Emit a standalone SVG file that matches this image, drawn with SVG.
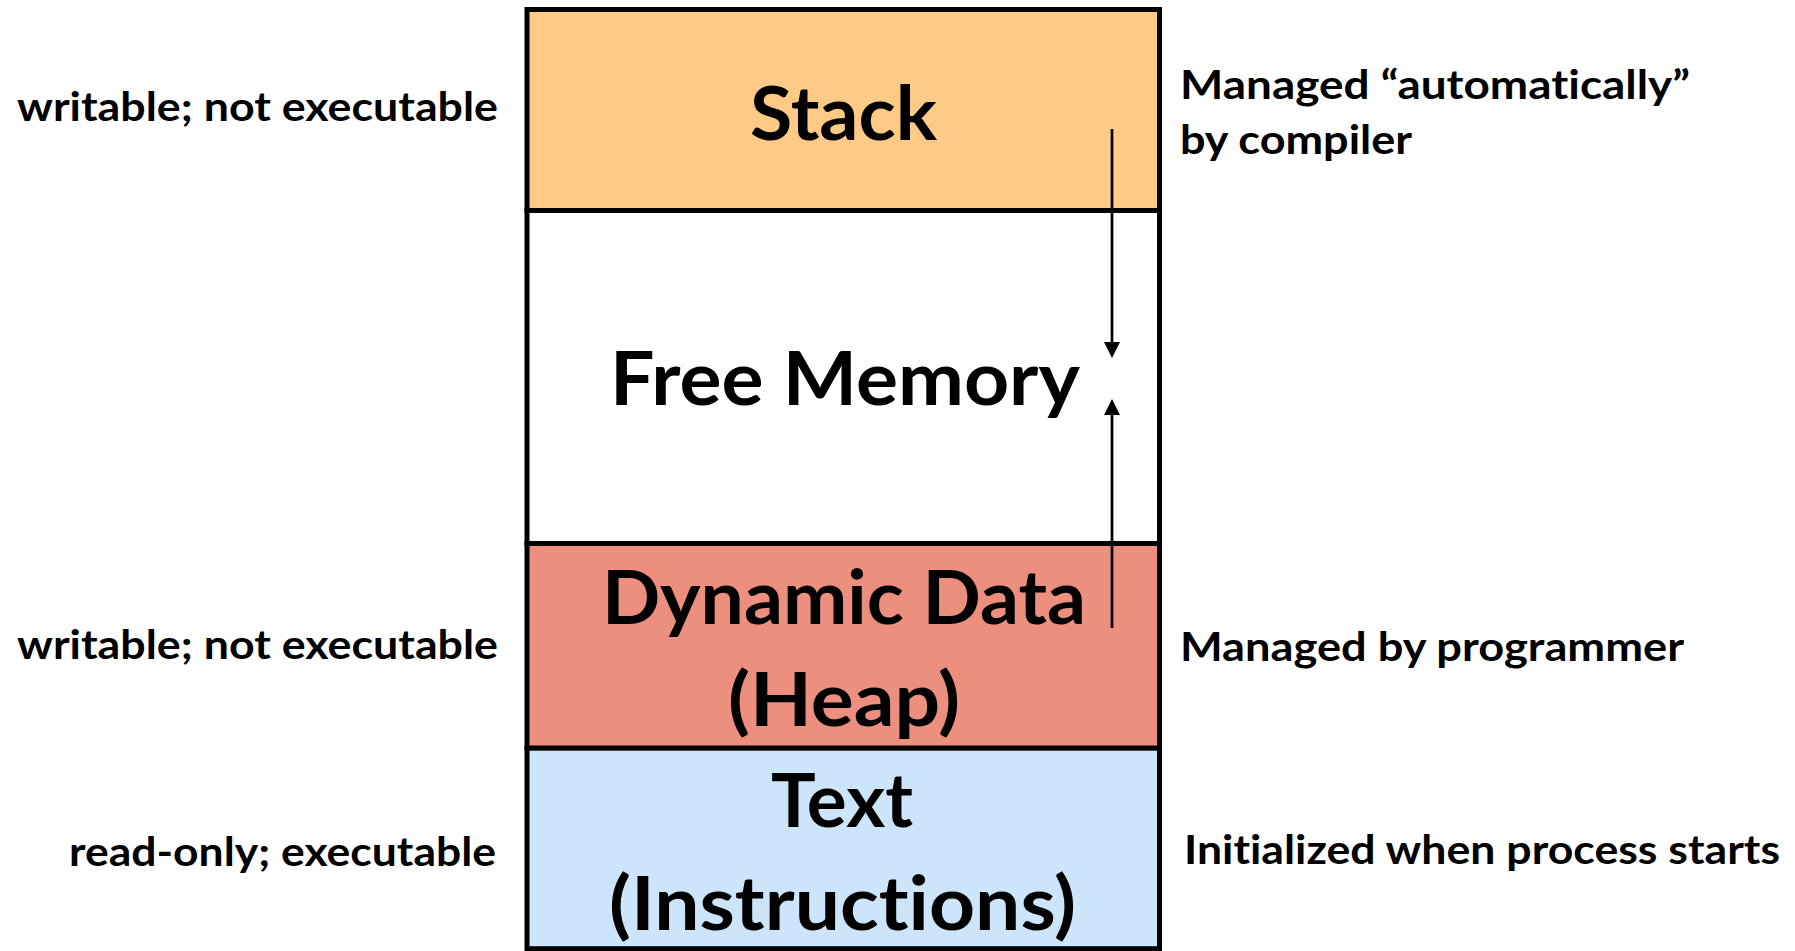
<svg xmlns="http://www.w3.org/2000/svg" width="1795" height="951" viewBox="0 0 1795 951">
  <style>
    .seg { stroke: #000000; stroke-width: 5; }
    .big { font-family: Lato, "Open Sans", "Liberation Sans", sans-serif; font-weight: bold; font-size: 74px; fill: #000000; font-variant-ligatures: none; }
    .side { font-family: Lato, "Open Sans", "Liberation Sans", sans-serif; font-weight: bold; font-size: 40px; fill: #000000; font-variant-ligatures: none; }
    .conn { stroke: #000000; stroke-width: 2.7; fill: none; }
  </style>
  <defs>
    <marker id="arrow" viewBox="0 0 16 16" refX="13" refY="8" markerWidth="16" markerHeight="16" markerUnits="userSpaceOnUse" orient="auto">
      <path d="M0,0 L16,8 L0,16 z" fill="#000000"/>
    </marker>
  </defs>
  <rect x="0" y="0" width="1795" height="951" fill="#ffffff"/>

  <g id="stack">
    <rect class="seg" x="527" y="9.5" width="632.5" height="201" fill="#FFC986"/>
    <text class="big" x="750" y="140" textLength="187" lengthAdjust="spacingAndGlyphs">Stack</text>
  </g>
  <g id="free-memory">
    <rect class="seg" x="527" y="210.5" width="632.5" height="333" fill="#FFFFFF"/>
    <text class="big" x="610" y="405" textLength="470" lengthAdjust="spacingAndGlyphs">Free Memory</text>
  </g>
  <g id="heap">
    <rect class="seg" x="527" y="543.5" width="632.5" height="204.7" fill="#ED8F7E"/>
    <text class="big" x="602" y="624" textLength="484" lengthAdjust="spacingAndGlyphs">Dynamic Data</text>
    <text class="big" x="728" y="726" textLength="232" lengthAdjust="spacingAndGlyphs">(Heap)</text>
  </g>
  <g id="text">
    <rect class="seg" x="527" y="748.2" width="632.5" height="200.5" fill="#CCE5FB"/>
    <text class="big" x="771" y="827" textLength="142" lengthAdjust="spacingAndGlyphs">Text</text>
    <text class="big" x="609" y="930" textLength="467" lengthAdjust="spacingAndGlyphs">(Instructions)</text>
  </g>

  <g id="labels-left">
    <text class="side" x="17" y="121" textLength="481" lengthAdjust="spacingAndGlyphs">writable; not executable</text>
    <text class="side" x="17" y="659" textLength="481" lengthAdjust="spacingAndGlyphs">writable; not executable</text>
    <text class="side" x="69" y="866" textLength="427" lengthAdjust="spacingAndGlyphs">read-only; executable</text>
  </g>
  <g id="labels-right">
    <text class="side" x="1180" y="99" textLength="510" lengthAdjust="spacingAndGlyphs">Managed “automatically”</text>
    <text class="side" x="1180" y="154" textLength="232" lengthAdjust="spacingAndGlyphs">by compiler</text>
    <text class="side" x="1180" y="661" textLength="504" lengthAdjust="spacingAndGlyphs">Managed by programmer</text>
    <text class="side" x="1184" y="864" textLength="596" lengthAdjust="spacingAndGlyphs">Initialized when process starts</text>
  </g>

  <g id="connectors">
    <line class="conn" x1="1112" y1="129" x2="1112" y2="355" marker-end="url(#arrow)"/>
    <line class="conn" x1="1112" y1="628" x2="1112" y2="402" marker-end="url(#arrow)"/>
  </g>
</svg>
